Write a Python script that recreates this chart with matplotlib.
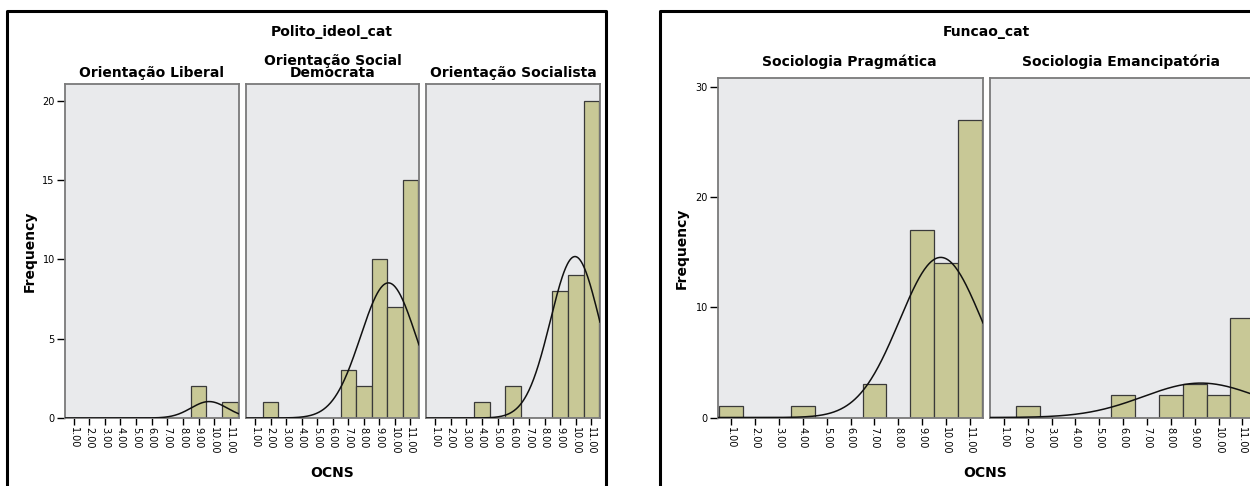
import numpy as np
import matplotlib
matplotlib.use('Agg')
import matplotlib.pyplot as plt
from matplotlib.lines import Line2D

plt.rcParams['font.family'] = ['DejaVu Sans']

# OCNS scores (bins) and counts per panel
ocns = np.arange(1, 12)
tick_labels = ['%.2f' % v for v in ocns]

ideol_titles = ['Orientação Liberal', 'Orientação Social\nDemocrata', 'Orientação Socialista']
ideol_liberal = [0, 0, 0, 0, 0, 0, 0, 0, 2, 0, 1]
ideol_socdem = [0, 1, 0, 0, 0, 0, 3, 2, 10, 7, 15]
ideol_social = [0, 0, 0, 1, 0, 2, 0, 0, 8, 9, 20]

funcao_titles = ['Sociologia Pragmática', 'Sociologia Emancipatória']
funcao_pragm = [1, 0, 0, 1, 0, 0, 3, 0, 17, 14, 27]
funcao_emanc = [0, 1, 0, 0, 0, 2, 0, 2, 3, 2, 9]

W, H = 1250, 486
fig = plt.figure(figsize=(W / 100, H / 100), dpi=100)

BAR = '#c8c896'
BG = '#e9eaec'
XLIM = (0.42, 11.55)


def px(x0, y0, x1, y1):
    # pixel box (top-left origin) -> figure fraction rect
    return [x0 / W, 1 - y1 / H, (x1 - x0) / W, (y1 - y0) / H]


def panel(box, counts, ymax, yticks, show_y):
    ax = fig.add_axes(px(*box))
    ax.set_facecolor(BG)
    counts = np.array(counts)
    ax.bar(ocns, counts, width=1.0, color=BAR, edgecolor='#3a3a3a', linewidth=0.9, zorder=2)
    # normal curve from the panel's own data
    vals = np.repeat(ocns, counts)
    m = vals.mean()
    s = vals.std(ddof=1)
    xs = np.linspace(XLIM[0], XLIM[1], 300)
    ys = len(vals) / (s * np.sqrt(2 * np.pi)) * np.exp(-0.5 * ((xs - m) / s) ** 2)
    ax.plot(xs, ys, color='#111111', lw=1.1, zorder=3)
    ax.set_xlim(*XLIM)
    ax.set_ylim(0, ymax)
    ax.set_xticks(ocns)
    ax.set_xticklabels(tick_labels, rotation=-90, fontsize=7)
    ax.tick_params(axis='x', direction='out', length=5, width=1, color='black', pad=1.5)
    if show_y:
        ax.set_yticks(yticks)
        ax.set_yticklabels([str(t) for t in yticks], fontsize=7)
        ax.tick_params(axis='y', direction='out', length=6, width=1, color='black', pad=1)
    else:
        ax.set_yticks([])
    for sp in ax.spines.values():
        sp.set_color('#7a7a7a')
        sp.set_linewidth(1.3)
    return ax


# left chart: Polito_ideol_cat
left_boxes = [(64.5, 84, 238.5, 418), (246, 84, 419, 418), (426, 84, 600, 418)]
for i, (b, c) in enumerate(zip(left_boxes, [ideol_liberal, ideol_socdem, ideol_social])):
    panel(b, c, 21.05, [0, 5, 10, 15, 20], i == 0)
    fig.text((b[0] + b[2]) / 2 / W, 1 - 79.5 / H, ideol_titles[i], ha='center', va='bottom',
             fontsize=10, fontweight='bold', linespacing=0.78)

# right chart: Funcao_cat
right_boxes = [(717.5, 78, 983, 417.5), (990, 78, 1255.5, 417.5)]
for i, (b, c) in enumerate(zip(right_boxes, [funcao_pragm, funcao_emanc])):
    panel(b, c, 30.86, [0, 10, 20, 30], i == 0)
    fig.text((min(b[0] + b[2], 2 * b[0] + 263)) / 2 / W, 1 - 69 / H, funcao_titles[i], ha='center',
             va='bottom', fontsize=10, fontweight='bold')

fig.text(332 / W, 1 - 32 / H, 'Polito_ideol_cat', ha='center', va='center', fontsize=10, fontweight='bold')
fig.text(986 / W, 1 - 32 / H, 'Funcao_cat', ha='center', va='center', fontsize=10, fontweight='bold')

fig.text(30 / W, 1 - 251 / H, 'Frequency', ha='center', va='center', rotation=90, fontsize=10, fontweight='bold')
fig.text(682 / W, 1 - 248 / H, 'Frequency', ha='center', va='center', rotation=90, fontsize=10, fontweight='bold')

fig.text(332 / W, 1 - 473 / H, 'OCNS', ha='center', va='center', fontsize=10, fontweight='bold')
fig.text(985 / W, 1 - 473 / H, 'OCNS', ha='center', va='center', fontsize=10, fontweight='bold')

# outer frames (bottom and far right fall outside the picture)
for xs, ys in [([7, 7, 606, 606], [500, 11, 11, 500]), ([660, 660, 1300], [500, 11, 11])]:
    fig.add_artist(Line2D([x / W for x in xs], [1 - y / H for y in ys], color='black', lw=2.2))

fig.savefig('out.png', dpi=100)
